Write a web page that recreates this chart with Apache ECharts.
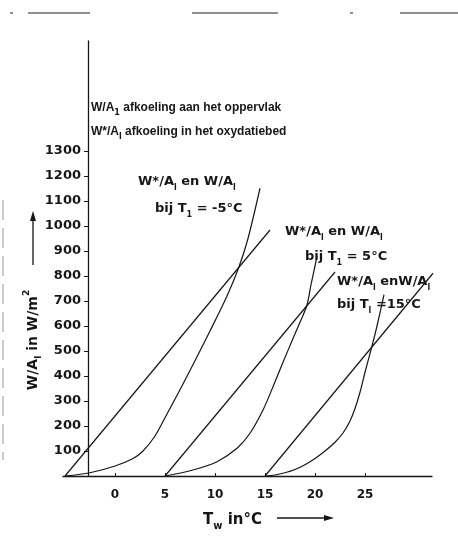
<!DOCTYPE html>
<html>
<head>
<meta charset="utf-8">
<script src="https://cdn.jsdelivr.net/npm/echarts@6/dist/echarts.min.js"></script>
<style>
html, body { margin: 0; padding: 0; background: #fff; }
#main { width: 458px; height: 558px; }
</style>
</head>
<body>
<div id="main"></div>
<script>
// T_w (°C) vs W/m2, straight lines: W/A_l, curves: W*/A_l
var lineMin5 = [[-5, 0], [15.5, 984]];
var line5 = [[5, 0], [22, 816]];
var line15 = [[15, 0], [31.8, 811]];

var curveMin5 = [[-5, 0], [-2.5, 13], [0, 40], [1.8, 70], [2.8, 100], [4, 160], [5.2, 248], [6.3, 330],
    [7.5, 422], [9.5, 580], [11.2, 720], [12.4, 837], [13.3, 950], [14.5, 1151]];
var curve5 = [[5, 0], [7.8, 24], [10.2, 57], [12.2, 111], [13.5, 171], [14.8, 264], [15.8, 357],
    [16.8, 455], [17.8, 550], [18.5, 615], [19.2, 684], [19.6, 765], [20, 840], [20.2, 880]];
var curve15 = [[15, 0], [16, 4], [17, 13], [18, 26], [19, 45], [20, 70], [21, 100], [22, 135],
    [22.8, 172], [23.5, 220], [24, 270], [24.5, 335], [25, 415], [25.7, 520], [26.2, 600], [26.9, 725]];

var xTicks = [0, 5, 10, 15, 20, 25];
var yTicks = [100, 200, 300, 400, 500, 600, 700, 800, 900, 1000, 1100, 1200, 1300];

var ink = '#161616';
var fam = 'DejaVu Sans';

function richSet(size) {
    var s = Math.round(size * 0.65);
    return {
        s: { fontSize: s, lineHeight: s, verticalAlign: 'bottom', fontWeight: 'bold', fontFamily: fam, fill: ink },
        p: { fontSize: s, lineHeight: s, verticalAlign: 'top', fontWeight: 'bold', fontFamily: fam, fill: ink }
    };
}

function label(x, y, text, size, family) {
    size = size || 13;
    return {
        type: 'text', x: x, y: y, silent: true,
        style: {
            text: text, fill: ink, fontSize: size, fontWeight: 'bold',
            fontFamily: family || fam, lineHeight: Math.round(size * 1.5),
            textAlign: 'left', textVerticalAlign: 'middle',
            rich: richSet(size)
        }
    };
}

function curve(data, smooth) {
    return {
        type: 'line', data: data, smooth: smooth ? 0.3 : false,
        showSymbol: false, symbol: 'none', clip: false, silent: true,
        lineStyle: { color: ink, width: 1.2 }
    };
}

var chart = echarts.init(document.getElementById('main'));
var option = {
    backgroundColor: '#fff',
    animation: false,
    grid: { left: 63, right: 26, top: 41, bottom: 82 },
    xAxis: {
        type: 'value', min: -5.2, max: 31.7,
        axisLine: { show: true, onZero: false, lineStyle: { color: ink, width: 1.3 } },
        axisTick: { show: true, inside: true, length: 3, customValues: xTicks, lineStyle: { color: ink } },
        axisLabel: { customValues: xTicks, margin: 13, color: ink, fontSize: 12, fontWeight: 'bold', fontFamily: fam },
        splitLine: { show: false }
    },
    yAxis: {
        type: 'value', min: 0, max: 1740, offset: -25,
        axisLine: { show: true, onZero: false, lineStyle: { color: ink, width: 1.3 } },
        axisTick: { show: true, length: 4, customValues: yTicks, lineStyle: { color: ink } },
        axisLabel: {
            customValues: yTicks, margin: 7, color: ink, fontSize: 13, fontWeight: 'bold', fontFamily: fam,
            formatter: function (v) { return String(v); }
        },
        splitLine: { show: false }
    },
    series: [
        curve(lineMin5, false), curve(line5, false), curve(line15, false),
        curve(curveMin5, true), curve(curve5, true), curve(curve15, true)
    ],
    graphic: [
        label(91, 108, 'W/A{s|1} afkoeling aan het oppervlak', 12, 'Liberation Sans'),
        label(91, 132, 'W*/A{s|l} afkoeling in het oxydatiebed', 12, 'Liberation Sans'),
        label(138, 182, 'W*/A{s|l} en W/A{s|l}'),
        label(155, 209, 'bij T{s|1} = -5°C'),
        label(285, 232, 'W*/A{s|l} en W/A{s|l}'),
        label(305, 257, 'bij T{s|1} = 5°C'),
        label(337, 282, 'W*/A{s|l} enW/A{s|l}'),
        label(337, 305, 'bij T{s|l} =15°C'),
        label(203, 520, 'T{s|w} in°C', 15),
        {
            type: 'text', x: 33, y: 340, rotation: Math.PI / 2, silent: true,
            style: {
                text: 'W/A{s|l} in W/m{p|2}', fill: ink, fontSize: 14, fontWeight: 'bold',
                fontFamily: fam, lineHeight: 21, textAlign: 'center', textVerticalAlign: 'middle',
                rich: richSet(14)
            }
        },
        // axis arrows
        { type: 'line', shape: { x1: 277, y1: 518, x2: 327, y2: 518 }, style: { stroke: ink, lineWidth: 1.3 } },
        { type: 'polygon', shape: { points: [[334, 518], [324, 515], [324, 521]] }, style: { fill: ink } },
        { type: 'line', shape: { x1: 33, y1: 265, x2: 33, y2: 219 }, style: { stroke: ink, lineWidth: 1.3 } },
        { type: 'polygon', shape: { points: [[33, 211], [30, 221], [36, 221]] }, style: { fill: ink } },
        // scan edges
        { type: 'line', shape: { x1: 28, y1: 13, x2: 90, y2: 13 }, style: { stroke: '#222', lineWidth: 1 } },
        { type: 'line', shape: { x1: 192, y1: 13, x2: 278, y2: 13 }, style: { stroke: '#222', lineWidth: 1 } },
        { type: 'line', shape: { x1: 400, y1: 13, x2: 458, y2: 13 }, style: { stroke: '#222', lineWidth: 1 } },
        { type: 'line', shape: { x1: 10, y1: 13, x2: 13, y2: 13 }, style: { stroke: '#222', lineWidth: 1 } },
        { type: 'line', shape: { x1: 350, y1: 13, x2: 353, y2: 13 }, style: { stroke: '#222', lineWidth: 1 } },
        { type: 'line', shape: { x1: 3, y1: 200, x2: 3, y2: 460 }, style: { stroke: '#999', lineWidth: 1, lineDash: [20, 8] } }
    ]
};
chart.setOption(option);
</script>
</body>
</html>
